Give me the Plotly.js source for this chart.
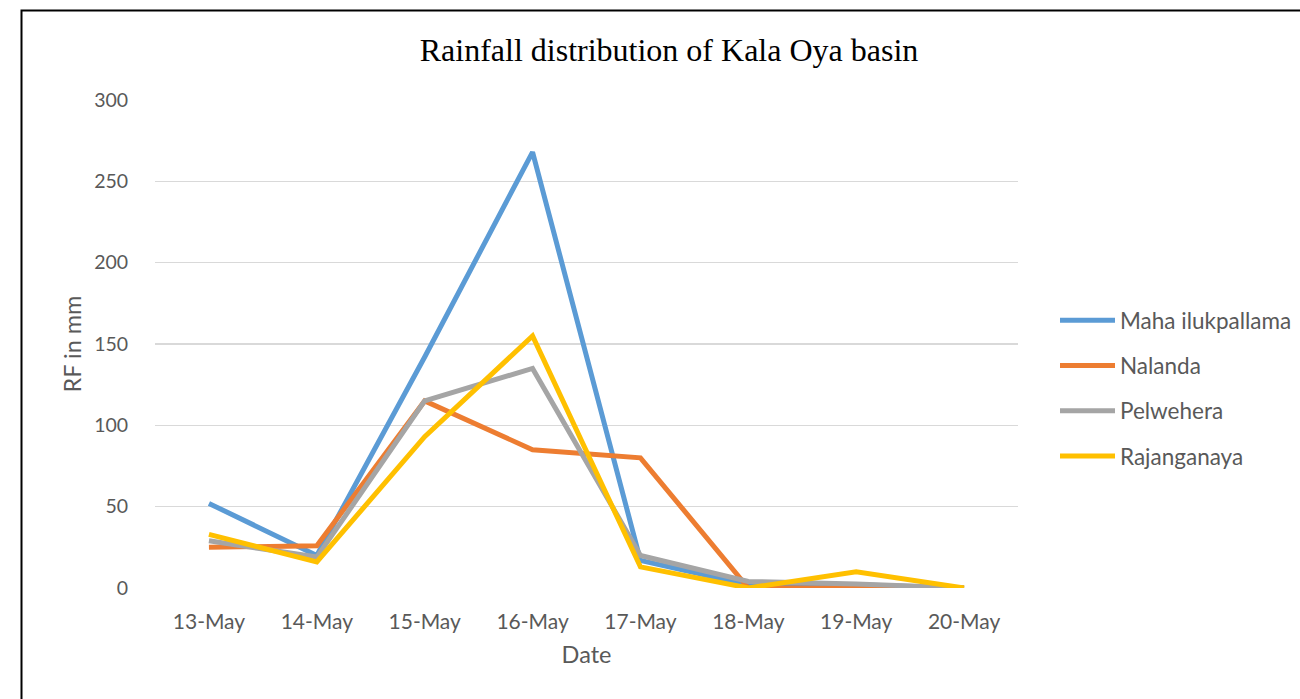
<!DOCTYPE html>
<html>
<head>
<meta charset="utf-8">
<script src="https://cdn.plot.ly/plotly-3.0.1.min.js"></script>
<style>html,body{margin:0;padding:0;background:#fff;}#chart{width:1300px;height:699px;}</style>
</head>
<body>
<div id="chart"></div>
<script>
const dates = ["13-May","14-May","15-May","16-May","17-May","18-May","19-May","20-May"];
const mahaIlukpallama = [52, 20, 142, 268, 17, 2, 2, 0];
const nalanda = [25, 26, 115, 85, 80, 0, 0, 0];
const pelwehera = [29, 19, 115, 135, 20, 4, 2.5, 0];
const rajanganaya = [33, 16, 93, 155, 13, 0, 10, 0];
const seriesNames = ["Maha ilukpallama","Nalanda","Pelwehera","Rajanganaya"];
const seriesColors = ["#5B9BD5","#ED7D31","#A5A5A5","#FFC000"];
const seriesValues = [mahaIlukpallama, nalanda, pelwehera, rajanganaya];
const yTicks = [0,50,100,150,200,250,300];

const traces = seriesValues.map((v,i)=>({
  type:'scatter', mode:'lines', x:dates, y:v, name:seriesNames[i],
  legendgroup:'g'+i,
  line:{color:seriesColors[i], width:5}
}));

const L=155, R=1018, T=100, B=588, W=1300, H=699;
const pw=R-L, ph=B-T;
const layout = {
  width:W, height:H,
  margin:{l:L, r:W-R, t:T, b:H-B, pad:0, autoexpand:false},
  paper_bgcolor:'#fff', plot_bgcolor:'#fff',
  font:{family:'Lato, "Open Sans", sans-serif', color:'#595959', size:19},
  title:{text:'Rainfall distribution of Kala Oya basin', font:{family:'"Liberation Serif", "Times New Roman", serif', size:32, color:'#000'}, xref:'container', x:669/W, xanchor:'center', y:1-50/H, yanchor:'middle'},
  xaxis:{type:'category', range:[-0.5,7.5], showgrid:false, zeroline:false, showline:false,
    ticks:'outside', ticklen:15, tickcolor:'rgba(0,0,0,0)', tickfont:{size:21, color:'#595959'},
    title:{text:'Date', font:{size:23.5, color:'#595959'}, standoff:14}},
  yaxis:{range:[0,300], tickvals:yTicks, showgrid:true, gridcolor:'#D9D9D9', gridwidth:1.3, zeroline:false, showline:false,
    ticks:'outside', ticklen:22, tickcolor:'rgba(0,0,0,0)', tickfont:{size:19.5, color:'#595959'},
    title:{text:'RF in mm', font:{size:23.5, color:'#595959'}, standoff:5}},
  legend:{x:(1055-L)/pw, xanchor:'left', y:(B-388)/ph, yanchor:'middle', tracegroupgap:13, itemwidth:55, font:{size:22.5, color:'#595959'}, bgcolor:'rgba(0,0,0,0)'},
  showlegend:true,
  shapes:[{type:'rect', xref:'paper', yref:'paper', x0:(21.5-L)/pw, x1:(1320-L)/pw, y0:(B-720)/ph, y1:(B-10.5)/ph, line:{color:'#000', width:2}, fillcolor:'rgba(0,0,0,0)', layer:'above'}]
};
Plotly.newPlot('chart', traces, layout, {displayModeBar:false, staticPlot:true});
</script>
</body>
</html>
